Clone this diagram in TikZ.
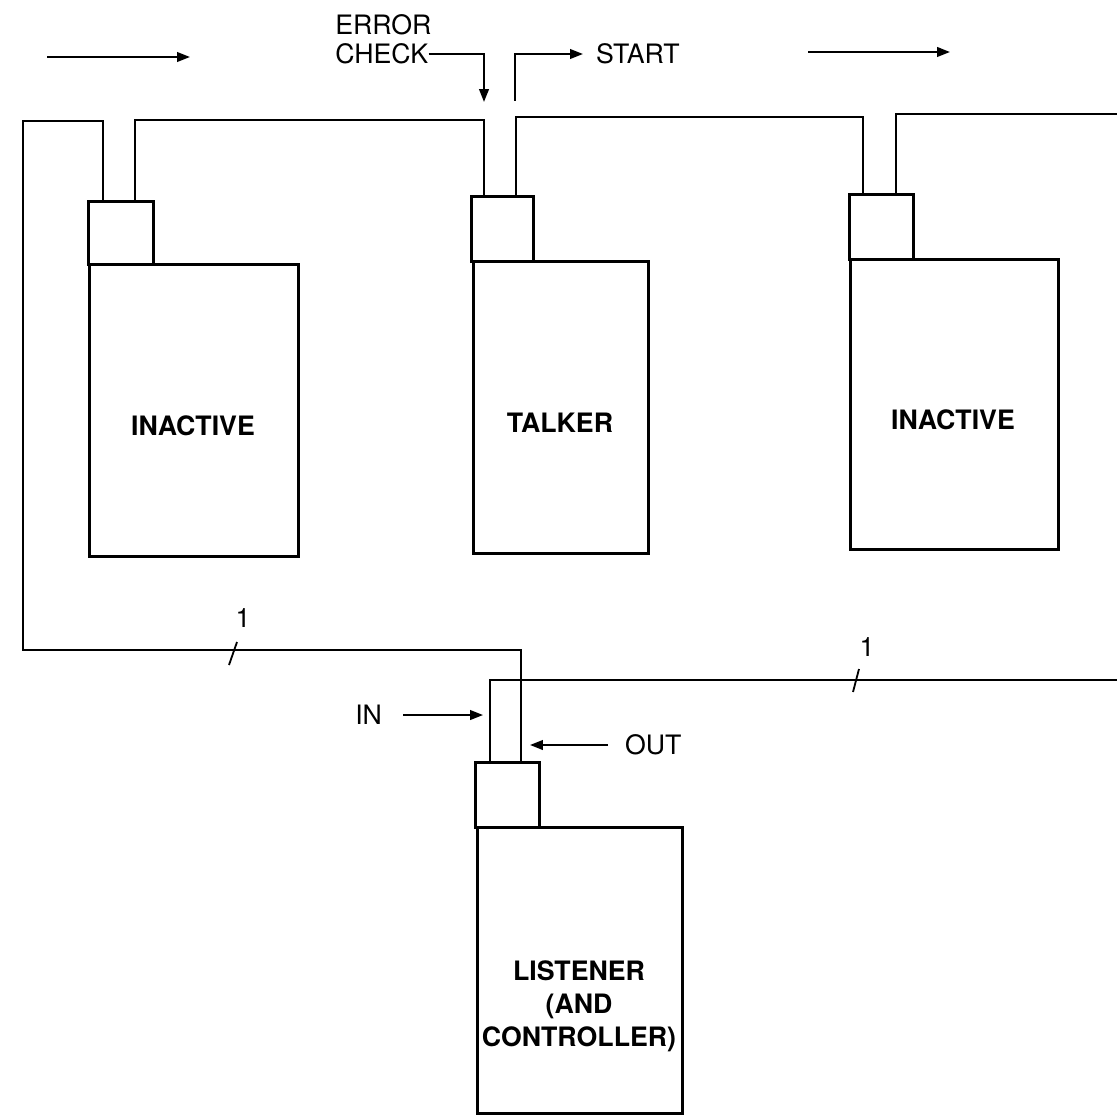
\documentclass[tikz,border=0pt]{standalone}
\usepackage{fontspec}
\setmainfont{TeX Gyre Heros}
\usetikzlibrary{arrows.meta,positioning}

\tikzset{
  unitbox/.style={draw, line width=2pt, inner sep=0pt, anchor=north west},
  portbox/.style={draw, line width=2pt, inner sep=0pt, anchor=north west},
  wire/.style={line width=1.3pt},
  sig/.style={line width=1.3pt, -{Triangle[length=3.2mm,width=2.4mm]}},
  lbl/.style={font=\fontsize{19}{24}\selectfont, inner sep=0pt},
  boxlbl/.style={font=\fontsize{19}{23.5}\selectfont\bfseries, align=center, inner sep=0pt},
}

\begin{document}
\begin{tikzpicture}[x=0.25mm, y=-0.25mm]
    \useasboundingbox (0,0) rectangle (1117,1115);

    % Geraet links (inaktiv)
    \node[unitbox, minimum width=52.25mm, minimum height=73mm] (inL) at (88,263) {};
    \node[portbox, minimum width=16.25mm, minimum height=15.75mm] (pL) at (87,200) {};
    \node[boxlbl] (inLtxt) at (193,426) {INACTIVE};
    \coordinate (pL1) at (103,200);
    \coordinate (pL2) at (135,200);

    % Talker
    \node[unitbox, minimum width=43.75mm, minimum height=73mm] (talk) at (472,260) {};
    \node[portbox, minimum width=15.5mm, minimum height=16.25mm] (pT) at (470,195) {};
    \node[boxlbl] (talkTxt) at (560,423) {TALKER};
    \coordinate (pT1) at (484,195);
    \coordinate (pT2) at (516,195);

    % Geraet rechts (inaktiv)
    \node[unitbox, minimum width=52mm, minimum height=72.5mm] (inR) at (849,258) {};
    \node[portbox, minimum width=16mm, minimum height=16.25mm] (pR) at (848,193) {};
    \node[boxlbl] (inRtxt) at (953,420) {INACTIVE};
    \coordinate (pR1) at (863,193);
    \coordinate (pR2) at (896,193);

    % Listener
    \node[unitbox, minimum width=51.25mm, minimum height=71.5mm] (lis) at (476,826) {};
    \node[portbox, minimum width=16mm, minimum height=16.25mm] (pS) at (474,761) {};
    \node[boxlbl] (lisTxt) at (579,1006) {LISTENER\\(AND\\CONTROLLER)};
    \coordinate (pS1) at (490,761);
    \coordinate (pS2) at (521,761);

    % Schleife
    \coordinate (nwc) at (23,121);
    \coordinate (swc) at (23,650);
    \coordinate (busE) at (1117,114);
    \coordinate (busSE) at (1117,680);
    \draw[wire] (pL1) |- (nwc) -- (swc) -| (pS2);
    \draw[wire] (pL2) -- ++(0,-80) -| (pT1);
    \draw[wire] (pT2) -- ++(0,-78) -| (pR1);
    \draw[wire] (pR2) |- (busE);
    \draw[wire] (pS1) |- (busSE);

    % Leitungsbreite 1
    \node[lbl] (n1L) at (243,618) {1};
    \draw[wire] (229,665) -- (237,642);
    \node[lbl] (n1R) at (867,647) {1};
    \draw[wire] (853,692) -- (859,669);

    % Signale am Talker
    \node[lbl, anchor=west] (err) at (335,25) {ERROR};
    \node[lbl, anchor=west] (chk) at (335,54) {CHECK};
    \coordinate (errTip) at (484,102);
    \draw[sig] (chk.east) -| (errTip);
    \node[lbl, anchor=west, outer sep=3.25mm] (start) at (583,54) {START};
    \coordinate (startFoot) at (515,101);
    \draw[sig] (startFoot) |- (start.west);

    % Flussrichtung
    \coordinate (flowL1) at (47,57);
    \coordinate (flowL2) at (190,57);
    \draw[sig] (flowL1) -- (flowL2);
    \coordinate (flowR1) at (808,52);
    \coordinate (flowR2) at (950,52);
    \draw[sig] (flowR1) -- (flowR2);

    % Signale am Listener
    \node[lbl, anchor=east, outer sep=5.25mm] (in) at (403,715) {IN};
    \coordinate (inTip) at (483,715);
    \draw[sig] (in.east) -- (inTip);
    \node[lbl, anchor=west, outer sep=4.25mm] (out) at (608,745) {OUT};
    \coordinate (outTip) at (530,745);
    \draw[sig] (out.west) -- (outTip);
\end{tikzpicture}
\end{document}
